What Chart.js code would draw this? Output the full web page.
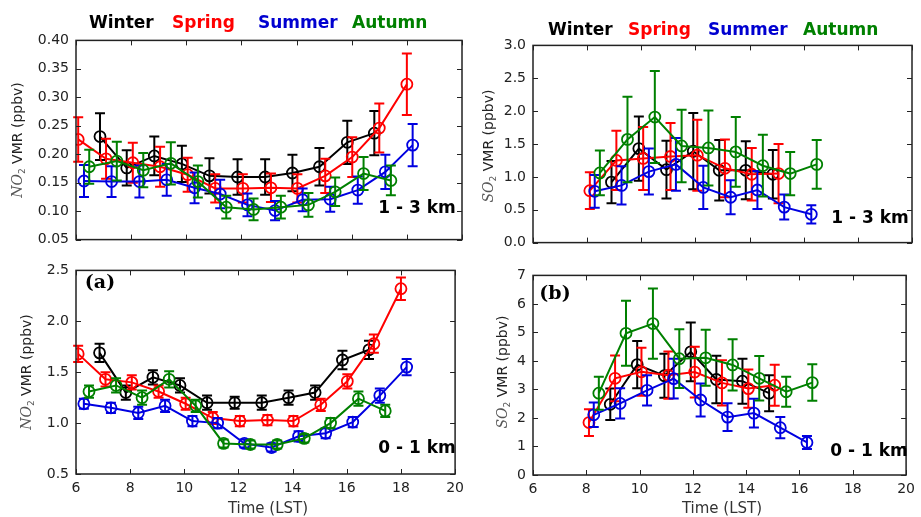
<!DOCTYPE html>
<html>
<head>
<meta charset="utf-8">
<title>NO2 / SO2 diurnal cycles</title>
<script src="https://cdn.jsdelivr.net/npm/chart.js@4.4.1/dist/chart.umd.min.js"></script>
<style>
  body { margin: 0; background: #fff; width: 921px; height: 517px; overflow: hidden; position: relative; font-family: "DejaVu Sans", sans-serif; }
  .box { position: absolute; }
  .txt { position: absolute; white-space: nowrap; transform: translate(-50%, -50%); }
  .leg { font-weight: bold; font-size: 17px; transform: translateY(-50%); }
  .km { font-weight: bold; font-size: 17px; color: #000; }
  .tag { font-family: "DejaVu Serif", "Liberation Serif", serif; font-weight: bold; font-size: 19px; color: #000; }
  .ytitle { font-size: 14px; color: #222; transform: translate(-50%, -50%) rotate(-90deg); }
  .ytitle i { font-family: "DejaVu Serif", serif; color: #555; }
  .ytitle sub { font-size: 9px; color: #555; }
  .xtitle { font-size: 15px; color: #333; }
</style>
</head>
<body>

<div class="box" style="left:0;top:25px;width:470px;height:230px"><canvas id="no2High" width="470" height="230"></canvas></div>
<div class="box" style="left:0;top:255px;width:470px;height:262px"><canvas id="no2Low" width="470" height="262"></canvas></div>
<div class="box" style="left:475px;top:30px;width:446px;height:228px"><canvas id="so2High" width="446" height="228"></canvas></div>
<div class="box" style="left:475px;top:260px;width:446px;height:257px"><canvas id="so2Low" width="446" height="257"></canvas></div>

<!-- season names above each column -->
<div class="txt leg" style="left:89px;top:22px;color:#000">Winter</div>
<div class="txt leg" style="left:172px;top:22px;color:#f00">Spring</div>
<div class="txt leg" style="left:258px;top:22px;color:#0000d0">Summer</div>
<div class="txt leg" style="left:352px;top:22px;color:#008000">Autumn</div>
<div class="txt leg" style="left:548px;top:29px;color:#000">Winter</div>
<div class="txt leg" style="left:628px;top:29px;color:#f00">Spring</div>
<div class="txt leg" style="left:708px;top:29px;color:#0000d0">Summer</div>
<div class="txt leg" style="left:803px;top:29px;color:#008000">Autumn</div>

<div class="txt km" style="left:417px;top:207px">1 - 3 km</div>
<div class="txt km" style="left:417px;top:447px">0 - 1 km</div>
<div class="txt km" style="left:870px;top:217px">1 - 3 km</div>
<div class="txt km" style="left:869px;top:450px">0 - 1 km</div>

<div class="txt tag" style="left:100px;top:281px">(a)</div>
<div class="txt tag" style="left:555px;top:292px">(b)</div>

<div class="txt ytitle" style="left:18px;top:140px"><i>NO</i><sub>2</sub> VMR (ppbv)</div>
<div class="txt ytitle" style="left:27px;top:372px"><i>NO</i><sub>2</sub> VMR (ppbv)</div>
<div class="txt ytitle" style="left:489px;top:146px"><i>SO</i><sub>2</sub> VMR (ppbv)</div>
<div class="txt ytitle" style="left:503px;top:372px"><i>SO</i><sub>2</sub> VMR (ppbv)</div>

<div class="txt xtitle" style="left:268px;top:508px">Time (LST)</div>
<div class="txt xtitle" style="left:722px;top:508px">Time (LST)</div>

<script>
// shared x axis
const timeTicks = [6, 8, 10, 12, 14, 16, 18, 20];

// NO2, 1 - 3 km
const no2HighTicks = [0.05, 0.10, 0.15, 0.20, 0.25, 0.30, 0.35, 0.40];
const no2HighWinterT = [6.87, 7.84, 8.84, 9.84, 10.84, 11.86, 12.86, 13.85, 14.83, 15.84, 16.82];
const no2HighWinterV = [0.231, 0.176, 0.197, 0.183, 0.162, 0.160, 0.160, 0.167, 0.178, 0.221, 0.237];
const no2HighWinterE = [0.041, 0.031, 0.034, 0.032, 0.031, 0.031, 0.031, 0.032, 0.033, 0.038, 0.039];
const no2HighSpringT = [6.08, 7.09, 8.06, 9.05, 10.05, 11.05, 12.05, 13.07, 14.03, 15.04, 16.02, 17.0, 18.0];
const no2HighSpringV = [0.226, 0.192, 0.185, 0.178, 0.164, 0.140, 0.140, 0.141, 0.140, 0.162, 0.195, 0.246, 0.323];
const no2HighSpringE = [0.039, 0.035, 0.035, 0.035, 0.030, 0.025, 0.025, 0.025, 0.025, 0.030, 0.035, 0.043, 0.054];
const no2HighSummerT = [6.29, 7.29, 8.30, 9.29, 10.30, 11.23, 12.22, 13.22, 14.22, 15.22, 16.22, 17.22, 18.21];
const no2HighSummerV = [0.153, 0.152, 0.152, 0.155, 0.141, 0.130, 0.111, 0.101, 0.120, 0.121, 0.137, 0.169, 0.216];
const no2HighSummerE = [0.028, 0.027, 0.028, 0.028, 0.027, 0.025, 0.020, 0.017, 0.020, 0.022, 0.024, 0.030, 0.037];
const no2HighAutumnT = [6.48, 7.48, 8.44, 9.44, 10.42, 11.45, 12.44, 13.43, 14.43, 15.40, 16.43, 17.42];
const no2HighAutumnV = [0.178, 0.188, 0.172, 0.184, 0.152, 0.107, 0.103, 0.107, 0.111, 0.134, 0.166, 0.154];
const no2HighAutumnE = [0.030, 0.034, 0.030, 0.037, 0.028, 0.020, 0.019, 0.020, 0.021, 0.025, 0.029, 0.026];

// NO2, 0 - 1 km
const no2LowTicks = [0.5, 1.0, 1.5, 2.0, 2.5];
const no2LowWinterV = [1.69, 1.30, 1.45, 1.37, 1.20, 1.20, 1.20, 1.25, 1.30, 1.62, 1.72];
const no2LowWinterE = [0.09, 0.07, 0.07, 0.07, 0.07, 0.06, 0.07, 0.07, 0.07, 0.09, 0.09];
const no2LowSpringV = [1.68, 1.43, 1.40, 1.31, 1.19, 1.05, 1.02, 1.03, 1.02, 1.18, 1.41, 1.78, 2.32];
const no2LowSpringE = [0.08, 0.07, 0.07, 0.06, 0.06, 0.06, 0.05, 0.05, 0.05, 0.06, 0.07, 0.09, 0.11];
const no2LowSummerV = [1.19, 1.15, 1.10, 1.17, 1.02, 1.00, 0.80, 0.76, 0.87, 0.90, 1.01, 1.27, 1.55];
const no2LowSummerE = [0.05, 0.05, 0.06, 0.06, 0.05, 0.05, 0.04, 0.04, 0.05, 0.05, 0.05, 0.07, 0.08];
const no2LowAutumnV = [1.31, 1.37, 1.25, 1.43, 1.17, 0.80, 0.79, 0.79, 0.85, 1.00, 1.24, 1.12];
const no2LowAutumnE = [0.06, 0.07, 0.07, 0.08, 0.06, 0.04, 0.04, 0.04, 0.04, 0.05, 0.07, 0.06];

// SO2, 1 - 3 km
const so2HighTicks = [0.0, 0.5, 1.0, 1.5, 2.0, 2.5, 3.0];
const so2WinterT = [8.90, 9.91, 10.93, 11.92, 12.88, 13.86, 14.86];
const so2HighWinterV = [0.92, 1.43, 1.11, 1.39, 1.10, 1.10, 1.04];
const so2HighWinterE = [0.32, 0.49, 0.44, 0.58, 0.46, 0.44, 0.37];
const so2SpringT = [8.10, 9.08, 10.07, 11.08, 12.07, 13.09, 14.08, 15.07];
const so2HighSpringV = [0.79, 1.25, 1.28, 1.31, 1.33, 1.13, 1.04, 1.05];
const so2HighSpringE = [0.28, 0.45, 0.48, 0.51, 0.54, 0.44, 0.40, 0.45];
const so2SummerT = [8.28, 9.27, 10.28, 11.28, 12.29, 13.30, 14.29, 15.28, 16.28];
const so2HighSummerV = [0.78, 0.87, 1.08, 1.19, 0.84, 0.69, 0.80, 0.54, 0.43];
const so2HighSummerE = [0.25, 0.29, 0.35, 0.40, 0.33, 0.26, 0.29, 0.19, 0.14];
const so2AutumnT = [8.47, 9.49, 10.50, 11.49, 12.48, 13.49, 14.49, 15.50, 16.48];
const so2HighAutumnV = [1.06, 1.57, 1.91, 1.47, 1.44, 1.38, 1.17, 1.05, 1.19];
const so2HighAutumnE = [0.34, 0.65, 0.70, 0.55, 0.57, 0.53, 0.47, 0.33, 0.37];

// SO2, 0 - 1 km
const so2LowTicks = [0, 1, 2, 3, 4, 5, 6, 7];
const so2LowWinterV = [2.48, 3.87, 3.48, 4.32, 3.35, 3.29, 2.87];
const so2LowWinterE = [0.55, 0.83, 0.77, 1.03, 0.83, 0.79, 0.63];
const so2LowSpringV = [1.84, 3.39, 3.62, 3.50, 3.61, 3.23, 3.03, 3.15];
const so2LowSpringE = [0.47, 0.80, 0.84, 0.83, 0.89, 0.79, 0.67, 0.72];
const so2LowSummerV = [2.11, 2.51, 2.97, 3.38, 2.63, 2.03, 2.17, 1.66, 1.14];
const so2LowSummerE = [0.43, 0.53, 0.53, 0.70, 0.58, 0.49, 0.50, 0.37, 0.23];
const so2LowAutumnV = [2.87, 4.97, 5.31, 4.08, 4.11, 3.86, 3.39, 2.92, 3.24];
const so2LowAutumnE = [0.58, 1.14, 1.23, 1.03, 0.98, 0.90, 0.78, 0.53, 0.64];

const seasons = ['Winter', 'Spring', 'Summer', 'Autumn'];
const seasonColors = ['#000000', '#ff0000', '#0000e0', '#008000'];

// vertical error bars with caps, drawn right after each series
const errorBars = {
  id: 'errorBars',
  afterDatasetDraw(chart, args) {
    const ds = chart.data.datasets[args.index];
    if (!ds.errors) return;
    const { ctx, scales: { y } } = chart;
    ctx.save();
    ctx.strokeStyle = ds.borderColor;
    ctx.lineWidth = 2;
    args.meta.data.forEach((pt, i) => {
      const v = ds.data[i].y;
      const top = y.getPixelForValue(v + ds.errors[i]);
      const bot = y.getPixelForValue(v - ds.errors[i]);
      ctx.beginPath();
      ctx.moveTo(pt.x, top); ctx.lineTo(pt.x, bot);
      ctx.moveTo(pt.x - 5, top); ctx.lineTo(pt.x + 5, top);
      ctx.moveTo(pt.x - 5, bot); ctx.lineTo(pt.x + 5, bot);
      ctx.stroke();
    });
    ctx.restore();
  }
};

// box around the plot with inward ticks on all four sides
const frameTicks = {
  id: 'frameTicks',
  afterDraw(chart) {
    const { ctx, chartArea: a, scales: { x, y } } = chart;
    ctx.save();
    ctx.strokeStyle = '#222';
    ctx.lineWidth = 1.5;
    ctx.strokeRect(a.left, a.top, a.right - a.left, a.bottom - a.top);
    ctx.lineWidth = 1;
    ctx.beginPath();
    x.ticks.forEach(t => {
      const px = Math.round(x.getPixelForValue(t.value)) + 0.5;
      ctx.moveTo(px, a.bottom); ctx.lineTo(px, a.bottom - 5);
      ctx.moveTo(px, a.top); ctx.lineTo(px, a.top + 5);
    });
    y.ticks.forEach(t => {
      const py = Math.round(y.getPixelForValue(t.value)) + 0.5;
      ctx.moveTo(a.left, py); ctx.lineTo(a.left + 5, py);
      ctx.moveTo(a.right, py); ctx.lineTo(a.right - 5, py);
    });
    ctx.stroke();
    ctx.restore();
  }
};

function series(times, values, errors) {
  return seasons.map((name, k) => ({
    label: name,
    data: times[k].map((t, i) => ({ x: t, y: values[k][i] })),
    errors: errors[k],
    borderColor: seasonColors[k],
    backgroundColor: 'rgba(0,0,0,0)',
    borderWidth: 2,
    pointRadius: 5.5,
    pointBorderWidth: 1.8,
    pointBackgroundColor: 'rgba(0,0,0,0)',
    pointBorderColor: seasonColors[k],
    tension: 0,
    order: 3 - k
  }));
}

function makePanel(id, datasets, yTicks, decimals, opts) {
  const tickFont = { family: 'DejaVu Sans', size: 14 };
  new Chart(document.getElementById(id), {
    type: 'line',
    data: { datasets },
    options: {
      responsive: false,
      animation: false,
      devicePixelRatio: 1,
      layout: { padding: { top: opts.top, right: opts.right, left: 0, bottom: 0 } },
      plugins: { legend: { display: false }, tooltip: { enabled: false } },
      scales: {
        x: {
          type: 'linear', min: 6, max: 20,
          grid: { display: false, drawTicks: false },
          border: { display: false },
          ticks: { display: opts.showX, font: tickFont, color: '#222', padding: 6 },
          afterBuildTicks(s) { s.ticks = timeTicks.map(v => ({ value: v })); },
          afterFit(s) { s.height = opts.xh; }
        },
        y: {
          min: yTicks[0], max: yTicks[yTicks.length - 1],
          grid: { display: false, drawTicks: false },
          border: { display: false },
          ticks: { font: tickFont, color: '#222', padding: 7, callback: v => v.toFixed(decimals) },
          afterBuildTicks(s) { s.ticks = yTicks.map(v => ({ value: v })); },
          afterFit(s) { s.width = opts.yw; }
        }
      }
    },
    plugins: [errorBars, frameTicks]
  });
}

const no2Times = [no2HighWinterT, no2HighSpringT, no2HighSummerT, no2HighAutumnT];
const so2Times = [so2WinterT, so2SpringT, so2SummerT, so2AutumnT];

makePanel('no2High',
  series(no2Times,
    [no2HighWinterV, no2HighSpringV, no2HighSummerV, no2HighAutumnV],
    [no2HighWinterE, no2HighSpringE, no2HighSummerE, no2HighAutumnE]),
  no2HighTicks, 2, { top: 8, right: 8, xh: 11, yw: 76, showX: false });

makePanel('no2Low',
  series(no2Times,
    [no2LowWinterV, no2LowSpringV, no2LowSummerV, no2LowAutumnV],
    [no2LowWinterE, no2LowSpringE, no2LowSummerE, no2LowAutumnE]),
  no2LowTicks, 1, { top: 10, right: 8, xh: 43, yw: 76, showX: true });

makePanel('so2High',
  series(so2Times,
    [so2HighWinterV, so2HighSpringV, so2HighSummerV, so2HighAutumnV],
    [so2HighWinterE, so2HighSpringE, so2HighSummerE, so2HighAutumnE]),
  so2HighTicks, 1, { top: 13, right: 9, xh: 10, yw: 58, showX: false });

makePanel('so2Low',
  series(so2Times,
    [so2LowWinterV, so2LowSpringV, so2LowSummerV, so2LowAutumnV],
    [so2LowWinterE, so2LowSpringE, so2LowSummerE, so2LowAutumnE]),
  so2LowTicks, 0, { top: 9, right: 9, xh: 42, yw: 58, showX: true });
</script>
</body>
</html>
